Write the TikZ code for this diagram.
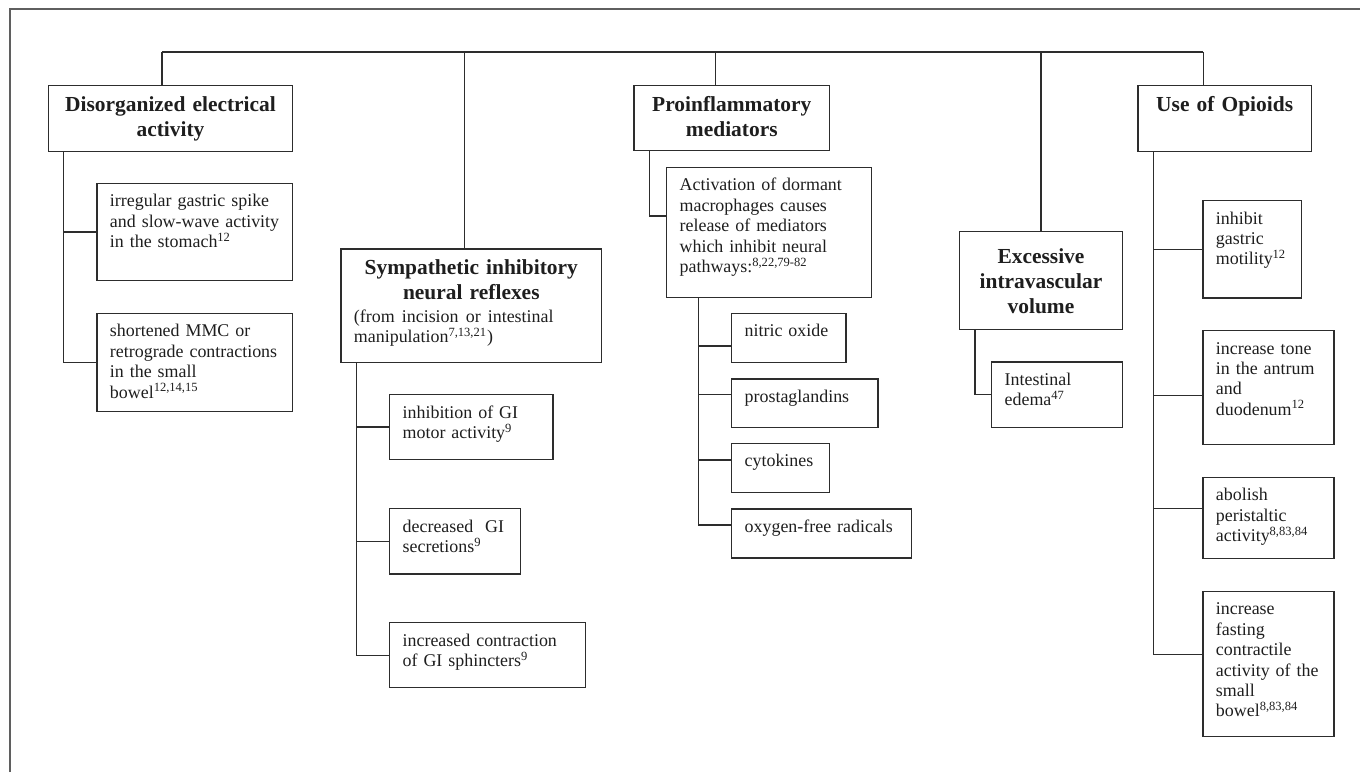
\documentclass[tikz,border=0pt]{standalone}
\usepackage{fontspec}
\setmainfont{Liberation Serif}

\tikzset{
    head/.style 2 args={draw=boxline, text=textcol, anchor=north west, align=center,
        font=\fontsize{12.2}{14.2}\selectfont\bfseries,
        inner xsep=0.26cm, inner ysep=0.22cm,
        text width={#1*0.02cm-0.52cm}, text height=0.3cm,
        text depth={#2*0.02cm-0.74cm}},
    leaf/.style 2 args={draw=boxline, text=textcol, anchor=north west, align=left,
        font=\fontsize{10.2}{11.6}\selectfont,
        inner xsep=0.26cm, inner ysep=0.22cm,
        text width={#1*0.02cm-0.52cm}, text height=0.25cm,
        text depth={#2*0.02cm-0.69cm}}
}

\begin{document}
\begin{tikzpicture}[x=0.02cm, y=-0.02cm, line width=0.75pt]
    % Define colors
    \definecolor{boxline}{RGB}{45,45,45}
    \definecolor{textcol}{RGB}{30,30,30}
    \definecolor{framegray}{RGB}{95,95,95}

    \useasboundingbox (0,0) rectangle (1360,772);

    % Frame (top and left edge only)
    \draw[framegray, line width=1pt] (10,772) -- (10,9) -- (1360,9);

    % Main causes
    \node[head={244.3}{65.7}] (dis) at (47.7,85) {Disorganized electrical\\ activity};
    \node[head={260.7}{113.4}, align=left] (sym) at (340.3,248.3)
        {{\centering Sympathetic inhibitory\\ neural reflexes\par}%
         {\raggedright\normalfont\fontsize{10.2}{11.6}\selectfont\vspace{1pt}%
         (from incision or intestinal\par manipulation\textsuperscript{7,13,21})\par}};
    \node[head={195.7}{65}] (pro) at (633.3,85) {Proinflammatory\\ mediators};
    \node[head={162.7}{98}, text height=0.42cm, text depth=1.1cm] (exc) at (959,231)
        {Excessive\\ intravascular\\ volume};
    \node[head={173.4}{66}] (opi) at (1137.3,85) {Use of Opioids};

    % Disorganized electrical activity
    \node[leaf={195.7}{97.3}] (dis1) at (96.3,182.7)
        {irregular gastric spike\\ and slow-wave activity\\ in the stomach\textsuperscript{12}};
    \node[leaf={195.7}{98}] (dis2) at (96.3,312.7)
        {shortened MMC or\\ retrograde contractions\\ in the small\\ bowel\textsuperscript{12,14,15}};

    % Sympathetic reflexes
    \node[leaf={163.3}{64.7}] (sym1) at (389,394) {inhibition of GI\\ motor activity\textsuperscript{9}};
    \node[leaf={130.7}{65.3}] (sym2) at (389,508) {decreased\ \ GI\\ secretions\textsuperscript{9}};
    \node[leaf={195.7}{65}] (sym3) at (389,622) {increased contraction\\ of GI sphincters\textsuperscript{9}};

    % Proinflammatory mediators
    \node[leaf={205}{130}] (pro1) at (666,166.7)
        {Activation of dormant\\ macrophages causes\\ release of mediators\\ which inhibit neural\\ pathways:\textsuperscript{8,22,79-82}};
    \node[leaf={114.3}{49}] (pro2) at (731,312.7) {nitric oxide};
    \node[leaf={146.3}{48.4}] (pro3) at (731,378.3) {prostaglandins};
    \node[leaf={98}{49}] (pro4) at (731,442.7) {cytokines};
    \node[leaf={179.7}{49}] (pro5) at (731,508.3) {oxygen-free radicals};

    % Excessive volume
    \node[leaf={130.7}{65.4}] (exc1) at (991,361.3) {Intestinal\\ edema\textsuperscript{47}};

    % Opioids
    \node[leaf={98.4}{97.3}] (opi1) at (1202.3,200) {inhibit\\ gastric\\ motility\textsuperscript{12}};
    \node[leaf={131}{114}] (opi2) at (1202.3,330) {increase tone\\ in the antrum\\ and\\ duodenum\textsuperscript{12}};
    \node[leaf={131}{81}] (opi3) at (1202.3,476.7) {abolish\\ peristaltic\\ activity\textsuperscript{8,83,84}};
    \node[leaf={131}{145.3}] (opi4) at (1202.3,590.7)
        {increase\\ fasting\\ contractile\\ activity of the\\ small\\ bowel\textsuperscript{8,83,84}};

    % Top bus
    \coordinate (bus) at (0,52);
    \draw[boxline] ([xshift=-0.17cm]dis.north |- bus) -- ([xshift=-0.43cm]opi.north |- bus);
    \foreach \n/\s in {dis/-0.17, sym/-0.13, pro/-0.32, exc/0, opi/-0.43}
        \draw[boxline] ([xshift=\s cm]\n.north |- bus) -- ([xshift=\s cm]\n.north);

    % Trunks to sub-boxes
    \foreach \c in {dis1,dis2}
        \draw[boxline] ([xshift=0.32cm]dis.south west) |- (\c.west);
    \foreach \c in {sym1,sym2,sym3}
        \draw[boxline] ([xshift=0.33cm]sym.south west) |- (\c.west);
    \draw[boxline] ([xshift=0.33cm]pro.south west) |- ([yshift=0.33cm]pro1.west);
    \foreach \c/\d in {pro2/-0.16, pro3/0.17, pro4/0.16, pro5/0.17}
        \draw[boxline] ([xshift=0.65cm]pro1.south west) |- ([yshift=\d cm]\c.west);
    \draw[boxline] ([xshift=0.32cm]exc.south west) |- (exc1.west);
    \foreach \c/\d in {opi1/0, opi2/-0.16, opi3/0.19, opi4/0.19}
        \draw[boxline] ([xshift=0.33cm]opi.south west) |- ([yshift=\d cm]\c.west);

\end{tikzpicture}
\end{document}
